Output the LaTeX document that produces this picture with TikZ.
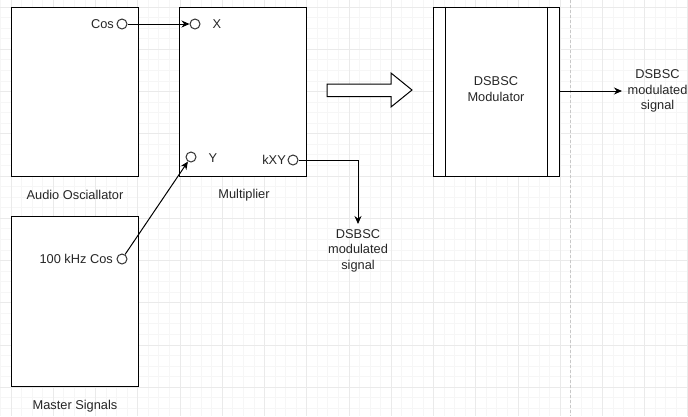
\documentclass[tikz,border=0pt]{standalone}
\usepackage{fontspec}
\setmainfont{Liberation Sans}
\usetikzlibrary{arrows.meta}
\definecolor{gridminor}{HTML}{F6F6F6}
\definecolor{gridmajor}{HTML}{EAEAEA}
\definecolor{dashgray}{HTML}{C8C8C8}
\tikzset{
  blk/.style={draw=black, line width=1pt, fill=white, inner sep=0pt},
  port/.style={circle, draw=black!80, line width=1pt, fill=white, minimum size=10pt, inner sep=0pt},
  lbl/.style={font=\fontsize{12.8}{15.5}\selectfont, inner sep=0pt, text=black!85},
  ml/.style={lbl, align=center},
  conn/.style={draw=black, line width=1pt, -{Stealth[length=8pt,width=7pt]}},
}
\begin{document}
\begin{tikzpicture}[x=1pt,y=-1pt]
\useasboundingbox (0,0) rectangle (688,416);
\fill[white] (0,0) rectangle (688,416);
% background grid
\foreach \i in {-4,...,65} {
  \draw[gridminor, line width=0.8pt] ({11+\i*10.5625},0) -- ({11+\i*10.5625},416);
}
\foreach \j in {-4,...,40} {
  \draw[gridminor, line width=0.8pt] (0,{7+\j*10.5625}) -- (688,{7+\j*10.5625});
}
\foreach \i in {-1,...,16} {
  \draw[gridmajor, line width=0.8pt] ({11+\i*42.25},0) -- ({11+\i*42.25},416);
}
\foreach \j in {-1,...,10} {
  \draw[gridmajor, line width=0.8pt] (0,{7+\j*42.25}) -- (688,{7+\j*42.25});
}
% dashed separator
\draw[dashgray, line width=1pt, dash pattern=on 3pt off 2pt] (570,0) -- (570,416);

% boxes
\node[blk, minimum width=127pt, minimum height=169pt] (osc) at (74.5,91.5) {};
\node[blk, minimum width=127pt, minimum height=169pt] (mult) at (242.5,91.5) {};
\node[blk, minimum width=127pt, minimum height=170pt] (master) at (74.5,301) {};
\node[blk, minimum width=126pt, minimum height=169pt] (mod) at (496,91.5) {};
\draw[line width=1pt] ([xshift=13pt]mod.north west) -- ([xshift=13pt]mod.south west);
\draw[line width=1pt] ([xshift=-12pt]mod.north east) -- ([xshift=-12pt]mod.south east);
\node[ml] (modtxt) at (496,89) {DSBSC\\Modulator};

% labels under boxes
\node[lbl] (osclbl) at (75,195) {Audio Osciallator};
\node[lbl] (multlbl) at (244,195) {Multiplier};
\node[lbl] (masterlbl) at (75,406) {Master Signals};

% ports
\node[port] (cosp) at (122,24) {};
\node[port] (xp) at (195,24) {};
\node[port] (yp) at (191,157) {};
\node[port] (kxyp) at (293,160) {};
\node[port] (mcp) at (122,259) {};

\node[lbl, anchor=east] (costxt) at (114,24) {Cos};
\node[lbl] (xtxt) at (217,24) {X};
\node[lbl] (ytxt) at (213,158) {Y};
\node[lbl, anchor=east] (kxytxt) at (286,160) {kXY};
\node[lbl, anchor=east] (mctxt) at (113,259) {100 kHz Cos};

% outputs
\node[ml] (out1) at (358,250.5) {DSBSC\\modulated\\signal};
\node[ml] (out2) at (657.5,91) {DSBSC\\modulated\\signal};
\coordinate (out2in) at (622,91);
\coordinate (out1in) at (358,224);

% connectors
\draw[conn] (cosp) -- (xp);
\draw[conn] (mcp) -- (yp);
\draw[conn] (kxyp) -| (out1in);
\draw[conn] (mod.east |- out2in) -- (out2in);

% block arrow
\draw[line width=1pt, fill=white] (327,84) -- (391,84) -- (391,73) -- (412,90) -- (391,107) -- (391,96.5) -- (327,96.5) -- cycle;
\end{tikzpicture}
\end{document}
